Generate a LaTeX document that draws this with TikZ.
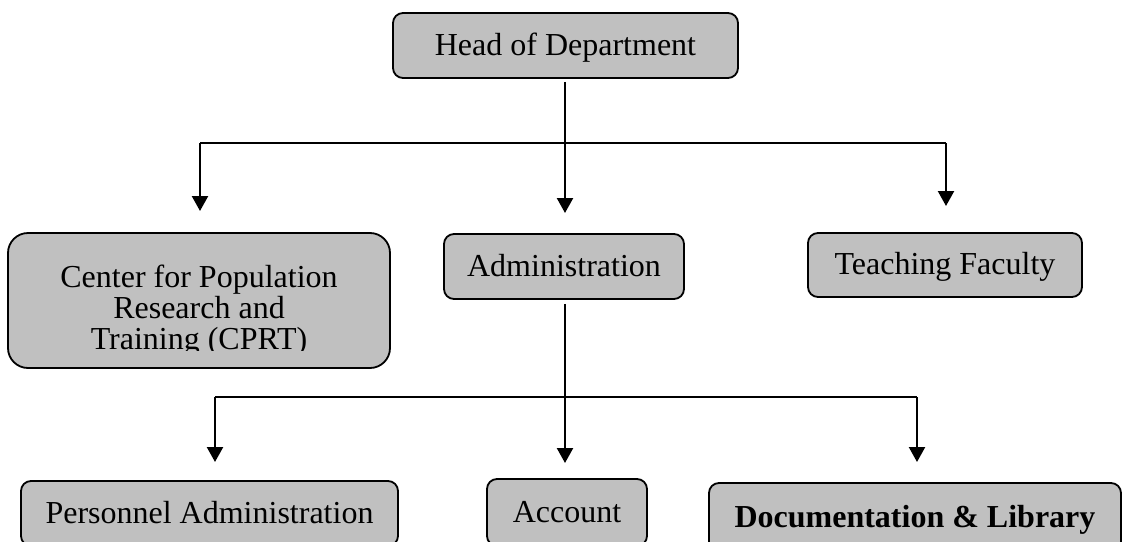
\documentclass[tikz,border=0pt]{standalone}
\usepackage{fontspec}
\setmainfont{Liberation Serif}
\usetikzlibrary{arrows.meta}
\definecolor{boxgray}{HTML}{C0C0C0}
\begin{document}
\begin{tikzpicture}[x=1pt,y=-1pt,
  orgbox/.style={draw=black, line width=1.8pt, fill=boxgray, rounded corners=10pt,
    inner sep=0pt, text height=23pt, text depth=4pt, font=\fontsize{32}{31}\selectfont},
  orgtext/.style={inner sep=0pt, font=\fontsize{32}{31}\selectfont},
  arr/.style={line width=2.3pt, -{Triangle[width=16pt,length=15pt]}},
  bar/.style={line width=1.8pt}]
\useasboundingbox (0,0) rectangle (1122,541);
\clip (0,0) rectangle (1122,541);

% boxes
\node[orgbox, minimum width=345pt, minimum height=65pt] (head) at (565.5,45.5) {Head of Department};
\node[orgbox, minimum width=382pt, minimum height=135pt, rounded corners=20pt] (cprt) at (199,300.5) {};
\begin{scope}
  \clip (0,0) rectangle (1122,350);
  \node[orgtext, anchor=base] (cprt1) at (199,287) {Center for Population};
  \node[orgtext, anchor=base] (cprt2) at (199,318) {Research and};
  \node[orgtext, anchor=base] (cprt3) at (199,349) {Training (CPRT)};
\end{scope}
\node[orgbox, minimum width=240pt, minimum height=65pt] (admin) at (564,266.5) {Administration};
\node[orgbox, minimum width=274pt, minimum height=64pt] (teach) at (945,265) {Teaching Faculty};
\node[orgbox, minimum width=377pt, minimum height=65pt] (pers) at (209.5,513.5) {Personnel Administration};
\node[orgbox, minimum width=160pt, minimum height=67pt] (acc) at (567,512.5) {Account};
\node[orgbox, minimum width=412pt, minimum height=69pt] (doc) at (915,517.5) {\bfseries Documentation \& Library};

% connector points
\coordinate (tL) at (200,143);
\coordinate (tR) at (946,143);
\coordinate (tipA) at (565,213);
\coordinate (tipL) at (200,211);
\coordinate (tipR) at (946,206);
\coordinate (bL) at (215,397);
\coordinate (bR) at (917,397);
\coordinate (tipP) at (215,462);
\coordinate (tipC) at (565,463);
\coordinate (tipD) at (917,462);

% top level
\draw[bar] (tL) -- (tR);
\draw[arr] ([yshift=-3pt]head.south -| tipA) -- (tipA);
\draw[arr] (tL) -- (tipL);
\draw[arr] (tR) -- (tipR);

% second level
\draw[bar] (bL) -- (bR);
\draw[arr] ([yshift=-4pt]admin.south -| tipC) -- (tipC);
\draw[arr] (bL) -- (tipP);
\draw[arr] (bR) -- (tipD);
\end{tikzpicture}
\end{document}
